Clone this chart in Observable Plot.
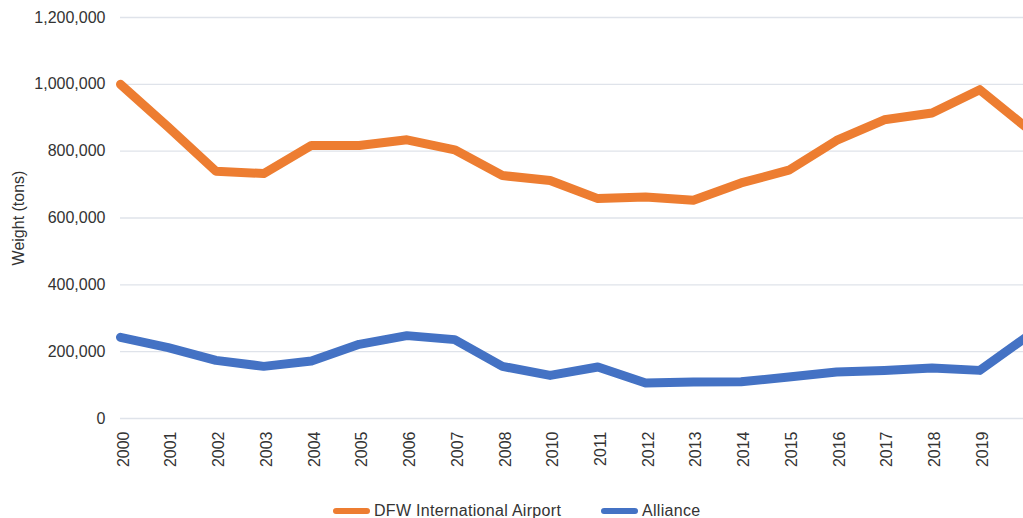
<!DOCTYPE html>
<html>
<head>
<meta charset="utf-8">
<script src="https://cdn.jsdelivr.net/npm/d3@7"></script>
<script src="https://cdn.jsdelivr.net/npm/@observablehq/plot@0.6"></script>
<style>
  html, body { margin: 0; padding: 0; overflow: hidden; background: #fff; }
  #wrap { position: relative; width: 1023px; height: 518px; overflow: hidden; font-family: "Liberation Sans", Arial, Helvetica, sans-serif; }
  #chart svg { max-width: none !important; display: block; }
  #legend { position: absolute; top: 499px; left: 0; width: 1023px; height: 24px; font-size: 16px; color: #333; letter-spacing: 0.3px; }
  .item { position: absolute; top: 0; display: flex; align-items: center; height: 24px; }
  .sw { width: 37px; height: 6px; border-radius: 3px; margin-right: 4px; }
</style>
</head>
<body>
<div id="wrap"><div id="chart"></div><div id="legend"></div></div>
<script>
const years = ["2000","2001","2002","2003","2004","2005","2006","2007","2008","2010","2011","2012","2013","2014","2015","2016","2017","2018","2019","2020"];
const tickYears = ["2000","2001","2002","2003","2004","2005","2006","2007","2008","2010","2011","2012","2013","2014","2015","2016","2017","2018","2019"];
const dfw = [1000000, 872000, 740000, 733000, 817000, 817000, 834000, 804000, 727000, 712000, 658000, 663000, 653000, 705000, 743000, 832000, 894000, 914000, 984000, 868000];
const alliance = [243000, 212000, 174000, 156000, 172000, 222000, 248000, 236000, 156000, 129000, 154000, 106000, 109000, 110000, 124000, 139000, 144000, 151000, 144000, 246000];
const seriesNames = ["DFW International Airport", "Alliance"];
const seriesColors = ["#ED7D31", "#4472C4"];
const yTicks = [0, 200000, 400000, 600000, 800000, 1000000, 1200000];
const yLabel = "Weight (tons)";

const rows = [];
years.forEach((y, i) => {
  rows.push({year: y, value: dfw[i], series: seriesNames[0]});
  rows.push({year: y, value: alliance[i], series: seriesNames[1]});
});

const chart = Plot.plot({
  width: 1040,
  height: 480,
  marginLeft: 120,
  marginRight: 13,
  marginTop: 17,
  marginBottom: 62,
  style: {fontFamily: '"Liberation Sans", Arial, Helvetica, sans-serif', fontSize: "16px", color: "#333", background: "#fff", maxWidth: "none"},
  x: {type: "point", domain: years, padding: 0, round: false},
  y: {domain: [0, 1200000]},
  color: {domain: seriesNames, range: seriesColors},
  marks: [
    Plot.ruleY(yTicks, {stroke: "#dfe3ea", strokeWidth: 1.3}),
    Plot.axisY({ticks: yTicks, tickSize: 0, tickPadding: 15, tickFormat: d3.format(","), label: null, fontSize: 16}),
    Plot.axisX({ticks: tickYears, tickSize: 0, tickPadding: 13, tickRotate: -90, dx: 3, label: null, fontSize: 16}),
    Plot.text([yLabel], {frameAnchor: "left", dx: -102, rotate: -90, textAnchor: "middle", fontSize: 16, fill: "#333", style: "letter-spacing: 0.5px"}),
    Plot.line(rows, {x: "year", y: "value", z: "series", stroke: "series", strokeWidth: 9, strokeLinecap: "round", strokeLinejoin: "round"})
  ]
});
chart.style.maxWidth = "none";
document.getElementById("chart").appendChild(chart);

const legend = document.getElementById("legend");
const lefts = [333, 601];
seriesNames.forEach((name, i) => {
  const it = document.createElement("div");
  it.className = "item";
  it.style.left = lefts[i] + "px";
  const sw = document.createElement("div");
  sw.className = "sw";
  sw.style.background = seriesColors[i];
  const tx = document.createElement("span");
  tx.textContent = name;
  it.appendChild(sw);
  it.appendChild(tx);
  legend.appendChild(it);
});
</script>
</body>
</html>
